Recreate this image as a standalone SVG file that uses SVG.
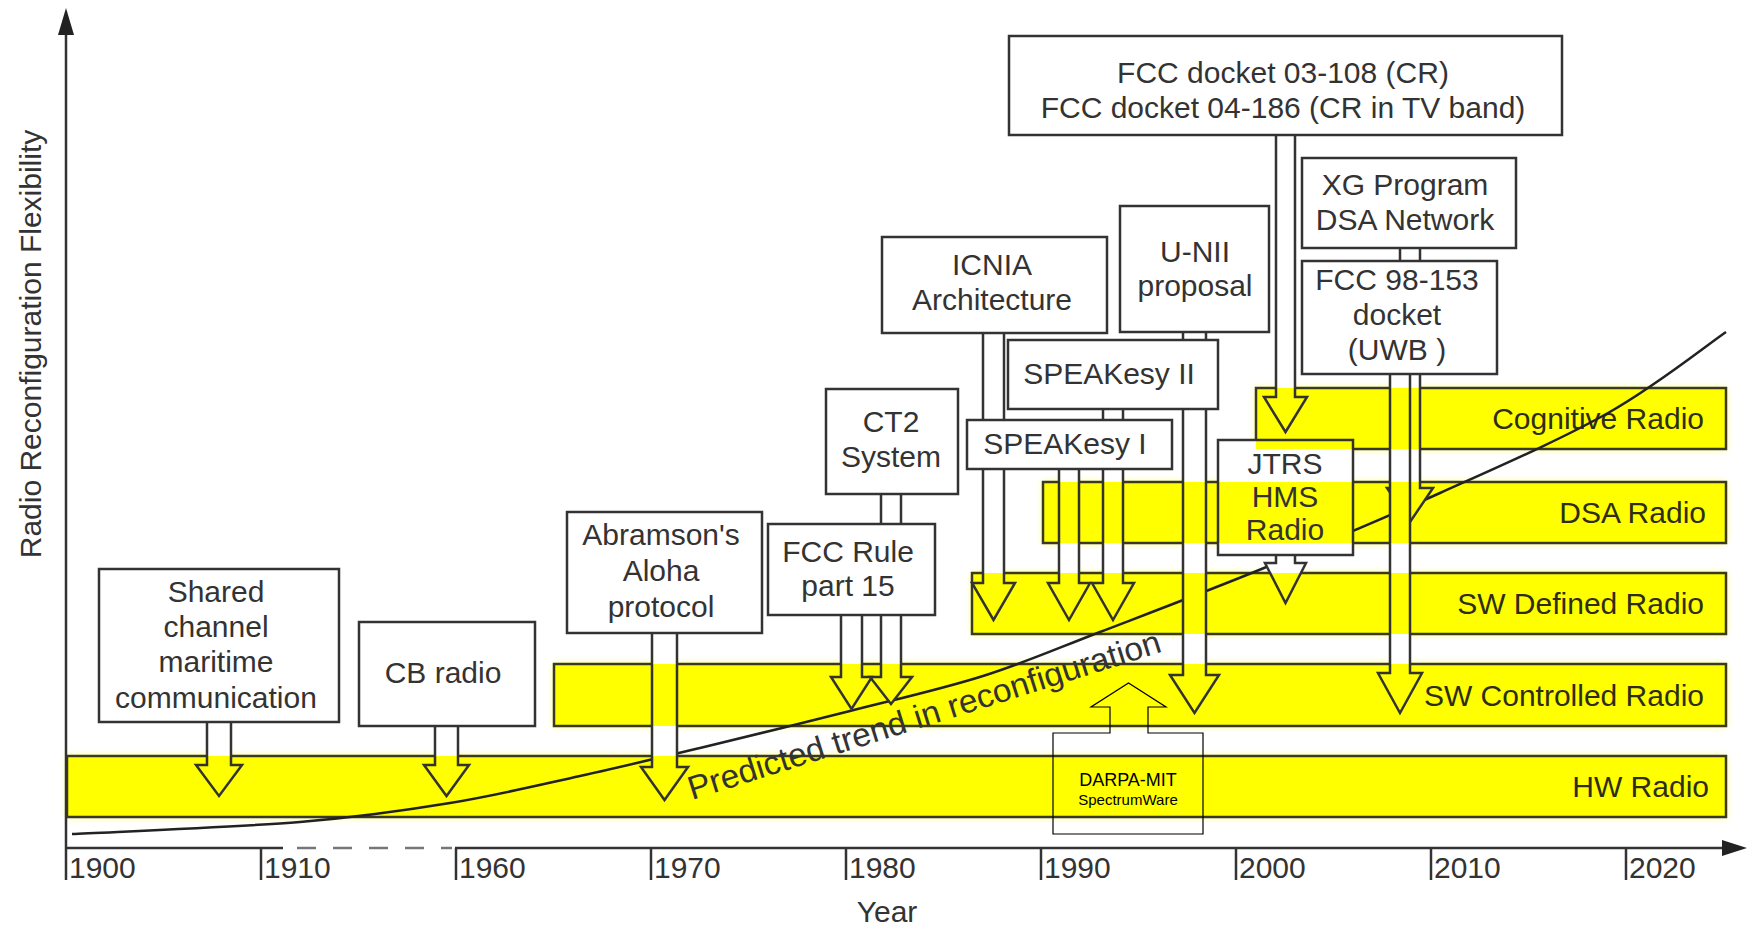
<svg xmlns="http://www.w3.org/2000/svg" xmlns:xlink="http://www.w3.org/1999/xlink" width="1748" height="928" viewBox="0 0 1748 928">
<defs>
<style>
.t{font-family:"Liberation Sans",Arial,sans-serif;font-size:30px;fill:#333;text-anchor:middle}
.bl{font-family:"Liberation Sans",Arial,sans-serif;font-size:30px;fill:#2e2e18;text-anchor:end}
.yr{font-family:"Liberation Sans",Arial,sans-serif;font-size:30px;fill:#333}
.box{fill:url(#bgp);stroke:#333;stroke-width:2.5}
.arr{fill:url(#bgp);stroke:#333;stroke-width:2.5;stroke-linejoin:miter}
.band{fill:none;stroke:#3a3a22;stroke-width:2.5}
.ax{stroke:#333;stroke-width:2.5;fill:none}
.yel{fill:#ffff00}
</style>
<filter id="halo" filterUnits="userSpaceOnUse" x="0" y="0" width="1748" height="928">
<feGaussianBlur stdDeviation="3.5"/>
</filter>
<g id="bandfills" class="yel">
<rect x="67" y="756" width="1659" height="61"/>
<rect x="554" y="664" width="1172" height="62"/>
<rect x="972" y="573" width="754" height="61"/>
<rect x="1043" y="482" width="683" height="61"/>
<rect x="1256" y="388" width="470" height="61"/>
</g>
<pattern id="bgp" patternUnits="userSpaceOnUse" x="0" y="0" width="1748" height="928">
<rect width="1748" height="928" fill="#fff"/>
<use href="#bandfills"/>
</pattern>
</defs>

<rect width="1748" height="928" fill="#fff"/>
<use href="#bandfills" filter="url(#halo)" opacity="0.6"/>

<g id="bands">
<g id="band-hw">
<use href="#bandfills"/>
<rect class="band" x="67" y="756" width="1659" height="61"/>
<text class="bl" x="1709" y="797">HW Radio</text>
</g>
<g id="band-swc">
<rect class="band" x="554" y="664" width="1172" height="62"/>
<text class="bl" x="1704" y="706">SW Controlled Radio</text>
</g>
<g id="band-swd">
<rect class="band" x="972" y="573" width="754" height="61"/>
<text class="bl" x="1704" y="614">SW Defined Radio</text>
</g>
<g id="band-dsa">
<rect class="band" x="1043" y="482" width="683" height="61"/>
<text class="bl" x="1706" y="523">DSA Radio</text>
</g>
<g id="band-cog">
<rect class="band" x="1256" y="388" width="470" height="61"/>
<text class="bl" x="1704" y="429">Cognitive Radio</text>
</g>
</g>

<g id="trend">
<path d="M72,834 C110,832 237,827.2 300,822 C363,816.8 403.3,810.7 450,803 C496.7,795.3 538.3,785.2 580,776 C621.7,766.8 655,758.8 700,748 C745,737.2 802.8,723 850,711 C897.2,699 941.3,689.2 983,676 C1024.7,662.8 1053.2,650 1100,632 C1146.8,614 1207.3,591.2 1264,568 C1320.7,544.8 1382.7,518.8 1440,493 C1497.3,467.2 1560.3,439.8 1608,413 C1655.7,386.2 1706.3,345.5 1726,332" fill="none" stroke="#222" stroke-width="2.5"/>
<text class="yr" transform="translate(692,800) rotate(-17.5)" textLength="494" lengthAdjust="spacingAndGlyphs" style="font-size:33px">Predicted trend in reconfiguration</text>
</g>

<g id="axes">
<line class="ax" x1="66" y1="30" x2="66" y2="880"/>
<polygon points="66,8 58,35 74,35" fill="#222"/>
<line class="ax" x1="66" y1="848" x2="283" y2="848"/>
<line x1="297" y1="848" x2="452" y2="848" stroke="#777" stroke-width="2.5" stroke-dasharray="19 17"/>
<line class="ax" x1="455" y1="848" x2="1725" y2="848"/>
<polygon points="1747,848 1722,840 1722,856" fill="#222"/>
<g stroke="#333" stroke-width="2.5">
<line x1="261" y1="848" x2="261" y2="880"/>
<line x1="456" y1="848" x2="456" y2="880"/>
<line x1="651" y1="848" x2="651" y2="880"/>
<line x1="846" y1="848" x2="846" y2="880"/>
<line x1="1041" y1="848" x2="1041" y2="880"/>
<line x1="1236" y1="848" x2="1236" y2="880"/>
<line x1="1431" y1="848" x2="1431" y2="880"/>
<line x1="1626" y1="848" x2="1626" y2="880"/>
</g>
<text class="yr" x="69" y="878">1900</text>
<text class="yr" x="264" y="878">1910</text>
<text class="yr" x="459" y="878">1960</text>
<text class="yr" x="654" y="878">1970</text>
<text class="yr" x="849" y="878">1980</text>
<text class="yr" x="1044" y="878">1990</text>
<text class="yr" x="1239" y="878">2000</text>
<text class="yr" x="1434" y="878">2010</text>
<text class="yr" x="1629" y="878">2020</text>
<text class="t" x="887" y="922">Year</text>
<text class="t" transform="translate(41,344) rotate(-90)">Radio Reconfiguration Flexibility</text>
</g>

<g id="connectors">
<path class="arr" d="M1400,246 V488 H1387 L1410,522 L1433,488 H1420 V246"/>
<path class="arr" d="M1390,372 V673 H1378 L1400,713 L1422,673 H1410 V372"/>
<path class="arr" d="M1276,133 V397 H1264 L1285.5,432 L1307,397 H1295 V133"/>
<path class="arr" d="M1276,553 V563 H1265 L1285.5,603 L1306,563 H1295 V553"/>
<path class="arr" d="M1183,330 V675 H1170 L1194.5,713 L1219,675 H1206 V330"/>
<path class="arr" d="M1103,407 V583 H1092 L1113,620 L1134,583 H1123 V407"/>
<path class="arr" d="M983,331 V583 H972 L993.5,620 L1015,583 H1004 V331"/>
<path class="arr" d="M1059,467 V583 H1048 L1069,620 L1090,583 H1079 V467"/>
<path class="arr" d="M881,492 V677 H870 L891,704 L912,677 H901 V492"/>
<path class="arr" d="M841,613 V677 H831 L851.5,709 L872,677 H862 V613"/>
<path class="arr" d="M652,631 V767 H641 L664.5,800 L688,767 H677 V631"/>
<path class="arr" d="M435,724 V765 H424 L446.5,796 L469,765 H458 V724"/>
<path class="arr" d="M207,720 V765 H196 L219,796 L242,765 H231 V720"/>
</g>

<g id="nodes">
<g id="fcc-docket">
<rect class="box" x="1009" y="36" width="553" height="99"/>
<text class="t" x="1283" y="83">FCC docket 03-108 (CR)</text>
<text class="t" x="1283" y="118">FCC docket 04-186 (CR in TV band)</text>
</g>
<g id="xg-program">
<rect class="box" x="1302" y="158" width="214" height="90"/>
<text class="t" x="1405" y="195">XG Program</text>
<text class="t" x="1405" y="230">DSA Network</text>
</g>
<g id="fcc-98-153">
<rect class="box" x="1302" y="261" width="195" height="113"/>
<text class="t" x="1397" y="290">FCC 98-153</text>
<text class="t" x="1397" y="325">docket</text>
<text class="t" x="1397" y="360">(UWB )</text>
</g>
<g id="icnia">
<rect class="box" x="882" y="237" width="225" height="96"/>
<text class="t" x="992" y="275">ICNIA</text>
<text class="t" x="992" y="310">Architecture</text>
</g>
<g id="u-nii">
<rect class="box" x="1120" y="206" width="149" height="126"/>
<text class="t" x="1195" y="262">U-NII</text>
<text class="t" x="1195" y="296">proposal</text>
</g>
<g id="speakesy-2">
<rect class="box" x="1008" y="340" width="210" height="69"/>
<text class="t" x="1109" y="384">SPEAKesy II</text>
</g>
<g id="speakesy-1">
<rect class="box" x="967" y="420" width="205" height="49"/>
<text class="t" x="1065" y="454">SPEAKesy I</text>
</g>
<g id="ct2">
<rect class="box" x="826" y="389" width="132" height="105"/>
<text class="t" x="891" y="432">CT2</text>
<text class="t" x="891" y="467">System</text>
</g>
<g id="fcc-rule">
<rect class="box" x="768" y="524" width="167" height="91"/>
<text class="t" x="848" y="562">FCC Rule</text>
<text class="t" x="848" y="596">part 15</text>
</g>
<g id="aloha">
<rect class="box" x="567" y="512" width="195" height="121"/>
<text class="t" x="661" y="545">Abramson's</text>
<text class="t" x="661" y="581">Aloha</text>
<text class="t" x="661" y="617">protocol</text>
</g>
<g id="cb-radio">
<rect class="box" x="359" y="622" width="176" height="104"/>
<text class="t" x="443" y="683">CB radio</text>
</g>
<g id="shared-channel">
<rect class="box" x="99" y="569" width="240" height="153"/>
<text class="t" x="216" y="602">Shared</text>
<text class="t" x="216" y="637">channel</text>
<text class="t" x="216" y="672">maritime</text>
<text class="t" x="216" y="708">communication</text>
</g>
<g id="jtrs">
<rect class="box" x="1218" y="440" width="135" height="115"/>
<text class="t" x="1285" y="474">JTRS</text>
<text class="t" x="1285" y="507">HMS</text>
<text class="t" x="1285" y="540">Radio</text>
</g>
<g id="darpa-mit">
<path d="M1110,733 V707 H1091 L1128.5,683 L1166,707 H1148 V733 H1203 V834 H1053 V733 Z" fill="none" stroke="#000" stroke-width="1.2"/>
<text x="1128" y="786" font-family="Liberation Sans, Arial, sans-serif" font-size="18" fill="#000" text-anchor="middle">DARPA-MIT</text>
<text x="1128" y="805" font-family="Liberation Sans, Arial, sans-serif" font-size="15" fill="#000" text-anchor="middle">SpectrumWare</text>
</g>
</g>
</svg>
